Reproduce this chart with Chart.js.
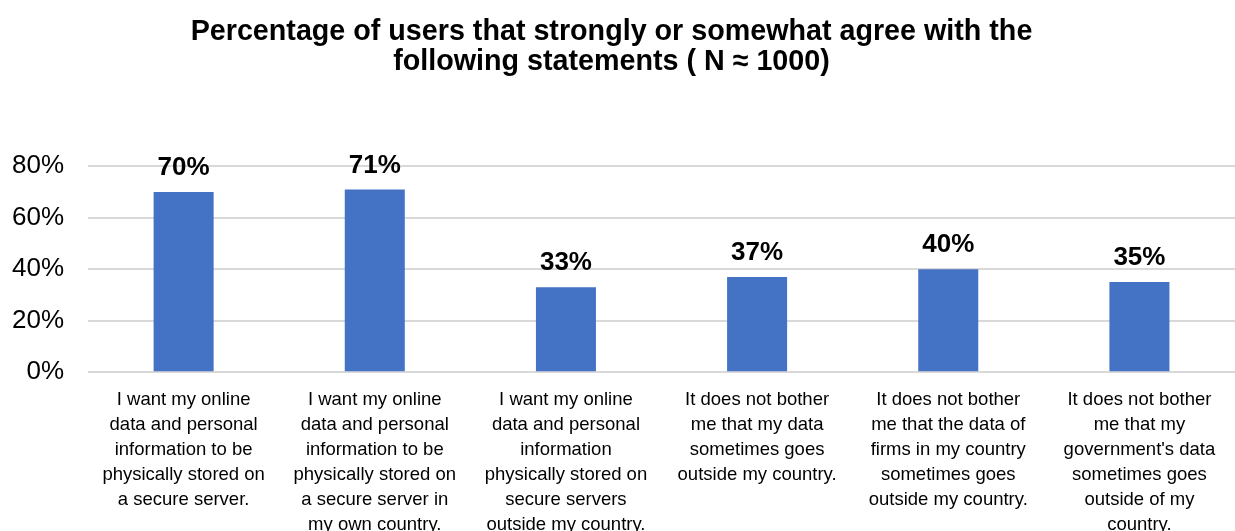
<!DOCTYPE html>
<html>
<head>
<meta charset="utf-8">
<title>Data storage attitudes</title>
<script src="https://cdn.jsdelivr.net/npm/chart.js@4"></script>
<style>
  html, body { margin: 0; padding: 0; background: #fff; }
  #wrap { width: 1235px; height: 531px; }
</style>
</head>
<body>
<div id="wrap"><canvas id="agreeChart" width="1235" height="531"></canvas></div>
<script>
// chart data
const categories = [
    ['I want my online', 'data and personal', 'information to be', 'physically stored on', 'a secure server.'],
    ['I want my online', 'data and personal', 'information to be', 'physically stored on', 'a secure server in', 'my own country.'],
    ['I want my online', 'data and personal', 'information', 'physically stored on', 'secure servers', 'outside my country.'],
    ['It does not bother', 'me that my data', 'sometimes goes', 'outside my country.'],
    ['It does not bother', 'me that the data of', 'firms in my country', 'sometimes goes', 'outside my country.'],
    ['It does not bother', 'me that my', "government's data", 'sometimes goes', 'outside of my', 'country.']
];
const agreePercent = [70, 71, 33, 37, 40, 35];
const titleLines = ['Percentage of users that strongly or somewhat agree with the', 'following statements ( N \u2248 1000)'];
const yTicks = [0, 20, 40, 60, 80];

const FONT = "'Liberation Sans', Arial, sans-serif";

// draws the bold value labels above each bar
const valueLabels = {
    id: 'valueLabels',
    afterDatasetsDraw(chart) {
        const ctx = chart.ctx;
        const meta = chart.getDatasetMeta(0);
        ctx.save();
        ctx.font = 'bold 26px ' + FONT;
        ctx.fillStyle = '#000';
        ctx.textAlign = 'center';
        ctx.textBaseline = 'middle';
        meta.data.forEach((bar, i) => {
            ctx.fillText(agreePercent[i] + '%', bar.x, bar.y - 24);
        });
        ctx.restore();
    }
};

const canvas = document.getElementById('agreeChart');
new Chart(canvas, {
    type: 'bar',
    data: {
        labels: categories,
        datasets: [{
            data: agreePercent,
            backgroundColor: '#4472C4',
            barPercentage: 0.314,
            categoryPercentage: 1
        }]
    },
    options: {
        responsive: false,
        animation: false,
        layout: { padding: { left: -12, right: 0, top: 0, bottom: -13 } },
        plugins: {
            legend: { display: false },
            tooltip: { enabled: false },
            title: {
                display: true,
                text: titleLines,
                color: '#000',
                font: { family: FONT, size: 28.7, weight: 'bold', lineHeight: 1.05 },
                padding: { top: 17, bottom: 89 }
            }
        },
        scales: {
            x: {
                grid: { display: false },
                border: { display: false },
                ticks: {
                    color: '#000',
                    maxRotation: 0,
                    autoSkip: false,
                    padding: 7,
                    font: { family: FONT, size: 18.5, lineHeight: 1.35 }
                }
            },
            y: {
                min: 0,
                max: 80,
                afterBuildTicks(axis) {
                    axis.ticks = yTicks.map(v => ({ value: v }));
                },
                grid: { color: '#d9d9d9', lineWidth: 2, drawTicks: false },
                border: { display: false },
                ticks: {
                    color: '#000',
                    padding: 24,
                    font: { family: FONT, size: 26 },
                    callback: v => v + '%'
                }
            }
        }
    },
    plugins: [valueLabels]
});
</script>
</body>
</html>
